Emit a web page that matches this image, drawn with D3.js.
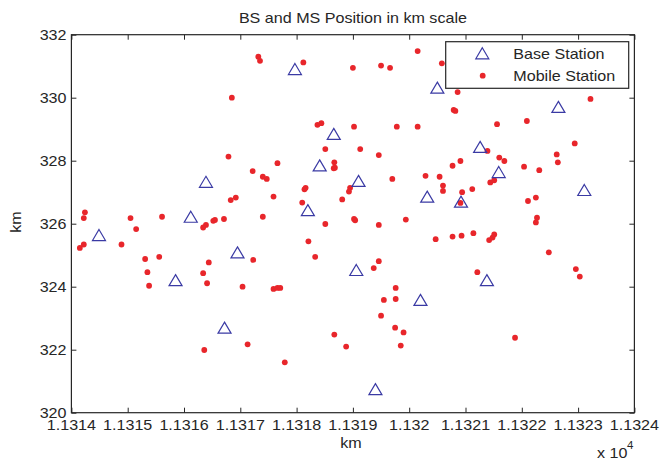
<!DOCTYPE html>
<html>
<head>
<meta charset="utf-8">
<script src="https://cdn.jsdelivr.net/npm/d3@7"></script>
<style>
  body { margin: 0; background: #fff; }
  svg { display: block; }
  text { font-family: "Liberation Sans", Arial, sans-serif; fill: #262626; }
</style>
</head>
<body>
<svg id="chart"></svg>
<script>
// base station positions (km)
var bsX = [11314.49, 11315.85, 11316.12, 11316.39, 11316.95, 11316.72, 11317.97, 11318.66,
  11318.41, 11318.20, 11319.10, 11319.06, 11319.40, 11320.20, 11320.50, 11320.32,
  11320.92, 11321.26, 11321.38, 11321.59, 11322.65, 11323.11];
var bsY = [325.64, 324.21, 326.22, 327.33, 325.09, 322.70, 330.91, 328.85,
  327.85, 326.43, 327.36, 324.53, 320.75, 323.58, 330.32, 326.86,
  326.70, 328.44, 324.21, 327.64, 329.71, 327.07];

// mobile station positions (km)
var msX = [11317.32, 11317.35, 11316.85, 11316.79, 11317.22, 11316.83, 11316.92, 11314.24,
  11314.22, 11315.05, 11315.61, 11316.39, 11316.34, 11316.52, 11316.55, 11316.71,
  11318.12, 11320.15, 11319.00, 11319.50, 11319.66, 11320.58, 11318.37, 11318.44,
  11319.02, 11319.78, 11320.15, 11318.51, 11319.13, 11319.46, 11317.66, 11318.67,
  11318.66, 11318.68, 11317.40, 11317.47, 11319.70, 11320.29, 11320.54, 11320.60,
  11320.60, 11318.16, 11318.14, 11318.95, 11318.93, 11317.59, 11318.81, 11318.10,
  11317.40, 11318.51, 11319.02, 11319.04, 11319.46, 11319.94, 11320.86, 11320.79,
  11320.82, 11323.22, 11321.56, 11322.09, 11322.94, 11321.39, 11321.60, 11321.69,
  11322.62, 11322.64, 11320.77, 11320.91, 11322.04, 11322.31, 11321.44, 11321.51,
  11321.12, 11320.94, 11320.91, 11322.11, 11322.25, 11322.27, 11322.25, 11314.15,
  11314.22, 11315.15, 11314.89, 11315.31, 11315.56, 11315.35, 11315.38, 11316.44,
  11316.34, 11316.41, 11317.23, 11317.04, 11316.36, 11317.13, 11318.21, 11318.33,
  11320.47, 11319.46, 11319.37, 11317.59, 11317.66, 11317.71, 11319.76, 11319.76,
  11319.55, 11319.50, 11319.75, 11319.90, 11319.85, 11318.67, 11318.88, 11317.79,
  11320.77, 11320.93, 11321.14, 11321.42, 11321.48, 11321.51, 11322.48, 11321.21,
  11322.96, 11323.03, 11321.88];
var msY = [331.30, 331.17, 330.00, 328.13, 327.67, 326.75, 326.83, 326.36,
  326.18, 326.18, 326.22, 325.96, 325.88, 326.09, 326.12, 326.15,
  331.12, 331.48, 330.95, 331.02, 330.95, 331.09, 329.14, 329.19,
  329.08, 329.08, 329.08, 328.37, 328.37, 328.18, 327.92, 327.95,
  327.76, 327.78, 327.49, 327.42, 327.42, 327.52, 327.49, 327.21,
  327.04, 327.14, 327.09, 327.14, 327.02, 326.86, 326.77, 326.67,
  326.22, 325.99, 326.15, 326.11, 325.96, 326.13, 330.18, 329.61,
  329.58, 329.96, 329.16, 329.26, 328.55, 328.31, 328.10, 327.99,
  328.20, 327.95, 327.84, 327.99, 327.81, 327.70, 327.31, 327.38,
  327.10, 327.00, 326.66, 326.72, 326.83, 326.19, 326.04, 325.23,
  325.34, 325.83, 325.34, 324.88, 324.95, 324.46, 324.03, 324.77,
  324.43, 324.11, 324.85, 324.00, 321.99, 322.17, 325.44, 324.95,
  325.51, 324.81, 324.59, 323.93, 323.96, 323.96, 323.96, 323.61,
  323.58, 323.08, 322.70, 322.55, 322.13, 322.48, 322.10, 321.60,
  325.59, 325.62, 325.70, 325.48, 325.56, 325.66, 325.09, 324.46,
  324.56, 324.32, 322.38];

var xTicks = d3.range(11314, 11325, 1);
var yTicks = d3.range(320, 333, 2);
var legendLabels = ["Base Station", "Mobile Station"];

var W = 662, H = 461;
var plotL = 71.4, plotR = 634.4, plotT = 34.7, plotB = 412.7;
var stretch = 1.15; // text in the reference is a bit wider than normal

var svg = d3.select("#chart").attr("width", W).attr("height", H);

var x = d3.scaleLinear().domain([11314, 11324]).range([plotL, plotR]);
var y = d3.scaleLinear().domain([320, 332]).range([plotB, plotT]);

function stext(g, tx, ty, str, anchor, size) {
  return g.append("text")
    .attr("transform", "translate(" + tx + "," + ty + ") scale(" + stretch + ",1)")
    .attr("text-anchor", anchor)
    .style("font-size", size + "px")
    .text(str);
}

var triPath = "M0,-5.5L6.5,5.5L-6.5,5.5Z";

// axes with inward ticks on all sides
var xFmt = function(v) { return String(+(v / 1e4).toFixed(4)); };

svg.append("g")
  .attr("transform", "translate(0," + plotB + ")")
  .call(d3.axisBottom(x).tickValues(xTicks).tickSizeInner(-5).tickSizeOuter(0).tickFormat(""));
svg.append("g")
  .attr("transform", "translate(0," + plotT + ")")
  .call(d3.axisTop(x).tickValues(xTicks).tickSizeInner(-5).tickSizeOuter(0).tickFormat(""));
svg.append("g")
  .attr("transform", "translate(" + plotL + ",0)")
  .call(d3.axisLeft(y).tickValues(yTicks).tickSizeInner(-5).tickSizeOuter(0).tickFormat(""));
svg.append("g")
  .attr("transform", "translate(" + plotR + ",0)")
  .call(d3.axisRight(y).tickValues(yTicks).tickSizeInner(-5).tickSizeOuter(0).tickFormat(""));

svg.selectAll(".domain").remove();
svg.selectAll(".tick line").attr("stroke", "#262626");

svg.append("rect")
  .attr("x", plotL).attr("y", plotT)
  .attr("width", plotR - plotL).attr("height", plotB - plotT)
  .attr("fill", "none").attr("stroke", "#262626").attr("stroke-width", 1.2);

// tick labels
var labels = svg.append("g");
xTicks.forEach(function(v) { stext(labels, x(v), 430, xFmt(v), "middle", 14); });
yTicks.forEach(function(v) { stext(labels, 66.5, y(v) + 5, String(v), "end", 14); });

stext(svg, (plotL + plotR) / 2, 22.5, "BS and MS Position in km scale", "middle", 14);
stext(svg, (plotL + plotR) / 2 - 2, 448, "km", "middle", 14);
svg.append("text")
  .attr("transform", "translate(21,222) rotate(-90) scale(" + stretch + ",1)")
  .attr("text-anchor", "middle")
  .style("font-size", "14px")
  .text("km");
stext(svg, 597, 458, "x 10", "start", 14);
stext(svg, 627, 449, "4", "start", 10);

// markers
var msData = msX.map(function(v, i) { return {x: v, y: msY[i]}; });
var bsData = bsX.map(function(v, i) { return {x: v, y: bsY[i]}; });

svg.append("g").selectAll("circle")
  .data(msData)
  .enter().append("circle")
  .attr("cx", function(d) { return x(d.x); })
  .attr("cy", function(d) { return y(d.y); })
  .attr("r", 2.9)
  .attr("fill", "#e8262b");

svg.append("g").selectAll("path")
  .data(bsData)
  .enter().append("path")
  .attr("d", triPath)
  .attr("transform", function(d) { return "translate(" + x(d.x) + "," + y(d.y) + ")"; })
  .attr("fill", "none")
  .attr("stroke", "#3a3aa4")
  .attr("stroke-width", 1.2);

// legend
var lg = svg.append("g");
lg.append("rect")
  .attr("x", 445.7).attr("y", 41.7).attr("width", 183).attr("height", 46.6)
  .attr("fill", "#fff").attr("stroke", "#262626").attr("stroke-width", 1.2);
lg.append("path").attr("d", triPath)
  .attr("transform", "translate(482.3,53.3)")
  .attr("fill", "none").attr("stroke", "#3a3aa4").attr("stroke-width", 1.2);
lg.append("circle").attr("cx", 482.7).attr("cy", 75.7).attr("r", 2.9).attr("fill", "#e8262b");
stext(lg, 513.3, 59, legendLabels[0], "start", 14);
stext(lg, 513.3, 80.5, legendLabels[1], "start", 14);
</script>
</body>
</html>
